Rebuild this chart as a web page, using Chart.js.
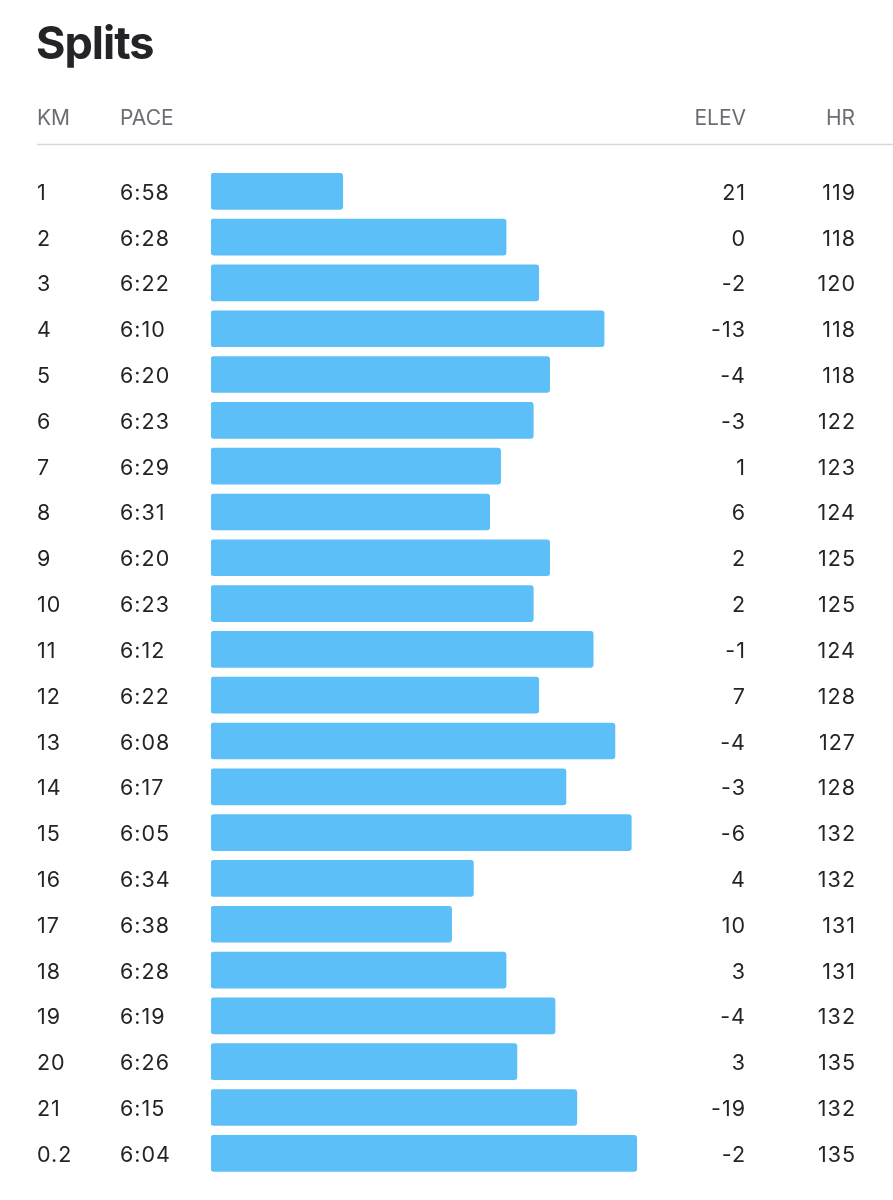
<!DOCTYPE html>
<html>
<head>
<meta charset="utf-8">
<script src="https://cdn.jsdelivr.net/npm/chart.js@4/dist/chart.umd.min.js"></script>
<style>
  html, body { margin: 0; padding: 0; background: #fff; }
  #wrap { width: 893px; height: 1200px; }
</style>
</head>
<body>
<div id="wrap"><canvas id="splits" width="893" height="1200"></canvas></div>
<script>
// DATA
const km = ['1','2','3','4','5','6','7','8','9','10','11','12','13','14','15','16','17','18','19','20','21','0.2'];
const pace = ['6:58','6:28','6:22','6:10','6:20','6:23','6:29','6:31','6:20','6:23','6:12','6:22','6:08','6:17','6:05','6:34','6:38','6:28','6:19','6:26','6:15','6:04'];
const elev = [21, 0, -2, -13, -4, -3, 1, 6, 2, 2, -1, 7, -4, -3, -6, 4, 10, 3, -4, 3, -19, -2];
const hr = [119, 118, 120, 118, 118, 122, 123, 124, 125, 125, 124, 128, 127, 128, 132, 132, 131, 131, 132, 135, 132, 135];
const headers = ['KM', 'PACE', 'ELEV', 'HR'];

// pace string -> seconds per km
const paceSec = pace.map(p => {
  const [m, s] = p.split(':').map(Number);
  return m * 60 + s;
});

const FONT = 'Inter, "Noto Sans", sans-serif';
const INK = '#242428';

// title, header row and the text columns
const tablePlugin = {
  id: 'splitsTable',
  afterDraw(chart) {
    const ctx = chart.ctx;
    const y = chart.scales.y;
    ctx.save();

    ctx.fillStyle = INK;
    ctx.font = 'bold 45px ' + FONT;
    ctx.letterSpacing = '-1px';
    ctx.textAlign = 'left';
    ctx.textBaseline = 'alphabetic';
    ctx.fillText('Splits', 36, 59);

    ctx.fillStyle = '#6c6c74';
    ctx.font = '21px ' + FONT;
    ctx.letterSpacing = '0px';
    ctx.fillText(headers[0], 37, 125);
    ctx.fillText(headers[1], 120, 125);
    ctx.textAlign = 'right';
    ctx.fillText(headers[2], 746, 125);
    ctx.fillText(headers[3], 855, 125);

    ctx.strokeStyle = '#d6d6de';
    ctx.lineWidth = 1.5;
    ctx.beginPath();
    ctx.moveTo(37, 144.5);
    ctx.lineTo(893, 144.5);
    ctx.stroke();

    ctx.fillStyle = INK;
    ctx.font = '21.5px ' + FONT;
    ctx.letterSpacing = '1px';
    km.forEach((k, i) => {
      const cy = y.getPixelForValue(i) + 8.5;
      ctx.textAlign = 'left';
      ctx.fillText(k, 37, cy);
      ctx.fillText(pace[i], 120, cy);
      ctx.textAlign = 'right';
      ctx.fillText(String(elev[i]), 746, cy);
      ctx.fillText(String(hr[i]), 856, cy);
    });
    ctx.restore();
  }
};

new Chart(document.getElementById('splits'), {
  type: 'bar',
  data: {
    labels: km,
    datasets: [{
      data: paceSec,
      base: 442.2,
      backgroundColor: '#5cbff8',
      borderRadius: 3,
      borderSkipped: false,
      barThickness: 36
    }]
  },
  options: {
    indexAxis: 'y',
    responsive: false,
    animation: false,
    events: [],
    layout: { padding: { left: 211, right: 234.5, top: 168.4, bottom: 23.8 } },
    plugins: { legend: { display: false }, tooltip: { enabled: false } },
    scales: {
      x: { display: false, reverse: true, min: 360, max: 442.2 },
      y: { display: false, offset: true, grid: { display: false } }
    }
  },
  plugins: [tablePlugin]
});
</script>
</body>
</html>
